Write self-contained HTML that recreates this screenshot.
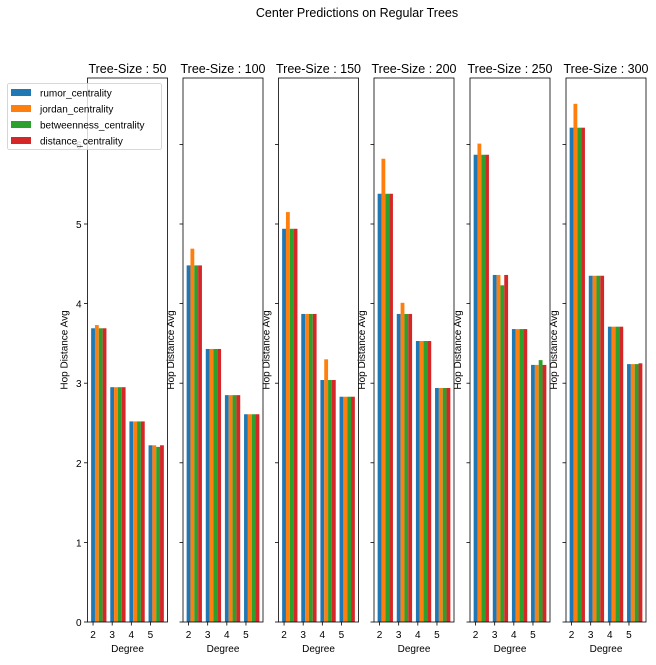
<!DOCTYPE html>
<html><head><meta charset="utf-8"><style>
body{margin:0;background:#fff}
text{font-family:"Liberation Sans","DejaVu Sans",sans-serif}
</style></head><body>
<svg id="chart" width="656" height="660" xmlns="http://www.w3.org/2000/svg"></svg>
<script>
const treeSizes = [50, 100, 150, 200, 250, 300];
const degrees = [2, 3, 4, 5];
const seriesNames = ["rumor_centrality","jordan_centrality","betweenness_centrality","distance_centrality"];
const colors = ["#1f77b4","#ff7f0e","#2ca02c","#d62728"];
const rumor = [[3.69,2.95,2.52,2.22],[4.48,3.43,2.85,2.61],[4.94,3.87,3.04,2.83],[5.38,3.87,3.53,2.94],[5.87,4.36,3.68,3.23],[6.21,4.35,3.71,3.24]];
const jordan = [[3.73,2.95,2.52,2.22],[4.69,3.43,2.85,2.61],[5.15,3.87,3.30,2.83],[5.82,4.01,3.53,2.94],[6.01,4.36,3.68,3.23],[6.51,4.35,3.71,3.24]];
const betweenness = [[3.69,2.95,2.52,2.20],[4.48,3.43,2.85,2.61],[4.94,3.87,3.04,2.83],[5.38,3.87,3.53,2.94],[5.87,4.23,3.68,3.29],[6.21,4.35,3.71,3.24]];
const distance = [[3.69,2.95,2.52,2.22],[4.48,3.43,2.85,2.61],[4.94,3.87,3.04,2.83],[5.38,3.87,3.53,2.94],[5.87,4.36,3.68,3.23],[6.21,4.35,3.71,3.25]];
const yTicks = [0,1,2,3,4,5,6];
const allSeries = [rumor, jordan, betweenness, distance];

const svg = document.getElementById('chart');
const NS = 'http://www.w3.org/2000/svg';
function mk(tag, attrs, parent){const e=document.createElementNS(NS,tag);for(const k in attrs)e.setAttribute(k,attrs[k]);(parent||svg).appendChild(e);return e;}

const axLefts = [87.5,183,278.5,374,470,566];
const axW = 80, axTop = 78, axBottom = 622;
const yOf = v => axBottom - v*79.6;
const xMin = 1.71, xMax = 5.89;
const bw = 0.2;

let t = mk('text',{x:357,y:17,'text-anchor':'middle','font-size':12.5,fill:'#000'});
t.textContent = 'Center Predictions on Regular Trees';



treeSizes.forEach((ts,p)=>{
  const L = axLefts[p];
  const xOf = v => L + (v-xMin)/(xMax-xMin)*axW;
  const g = mk('g',{});
  
  
  allSeries.forEach((s,si)=>{
    degrees.forEach((d,di)=>{
      const v = s[p][di];
      const r = mk('rect',{x:xOf(d+si*bw-bw/2),y:yOf(v),width:xOf(bw)-xOf(0),height:yOf(0)-yOf(v),fill:colors[si]},g);
      
      
    });
  });
  const fr = mk('rect',{x:L,y:axTop,width:axW,height:axBottom-axTop,fill:'none',stroke:'#000','stroke-width':0.8},g);
  
  
  yTicks.forEach(v=>{
    mk('line',{x1:L-3.5,x2:L,y1:yOf(v),y2:yOf(v),stroke:'#000','stroke-width':0.8},g);
    if(p===0){
      const tl = mk('text',{x:L-6,y:yOf(v)+4,'text-anchor':'end','font-size':10},g);
      tl.textContent = v;
      
      
    }
  });
  degrees.forEach(d=>{
    mk('line',{x1:xOf(d),x2:xOf(d),y1:axBottom,y2:axBottom+3.5,stroke:'#000','stroke-width':0.8},g);
    const tl = mk('text',{x:xOf(d),y:axBottom+16,'text-anchor':'middle','font-size':10},g);
    tl.textContent = d;
    
    
  });
  const xl = mk('text',{x:L+axW/2,y:652,'text-anchor':'middle','font-size':10},g);
  xl.textContent='Degree';
  
  
  const yl = mk('text',{x:0,y:0,'text-anchor':'middle','font-size':10,transform:`translate(${p===0?L-20:L-9},350) rotate(-90)`},g);
  yl.textContent='Hop Distance Avg';
  
  
  const ti = mk('text',{x:L+axW/2,y:73,'text-anchor':'middle','font-size':12.5},g);
  ti.textContent='Tree-Size : '+ts;
  
  
});

const lg = mk('g',{});


mk('rect',{x:7.5,y:83.5,width:154,height:66,rx:2,fill:'#fff','fill-opacity':0.8,stroke:'#ccc','stroke-width':0.8},lg);
seriesNames.forEach((n,i)=>{
  const cy = 92.5+i*16;
  const pr = mk('rect',{x:11,y:cy-3.5,width:20,height:7,fill:colors[i]},lg);
  
  
  const lt = mk('text',{x:40,y:cy+4,'font-size':10},lg);
  lt.textContent=n;
  
  
});
</script>
</body></html>
